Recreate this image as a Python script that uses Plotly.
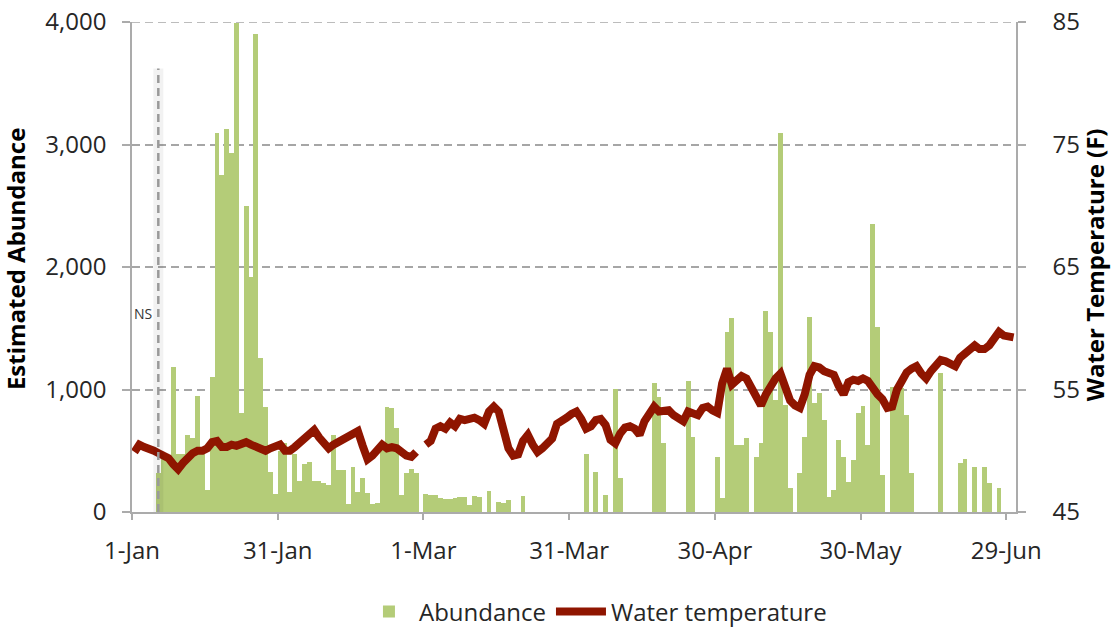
import pandas as pd
import plotly.graph_objects as go

start_date = "2012-01-01"

abundance = [
    0, 0, 0, 0, 0, 320, 430, 430, 1185, 470,
    470, 630, 605, 945, 480, 180, 1100, 3097, 2750, 3125,
    2930, 3995, 810, 2500, 1920, 3900, 1255, 860, 330, 150,
    500, 560, 165, 470, 250, 390, 410, 250, 250, 236,
    222, 628, 340, 340, 65, 370, 166, 277, 158, 65,
    76, 533, 857, 850, 685, 139, 318, 350, 318, 0,
    147, 139, 139, 114, 105, 105, 114, 122, 122, 57,
    131, 122, 0, 174, 0, 84, 76, 98, 0, 0,
    130, 0, 0, 0, 0, 0, 0, 0, 0, 0,
    0, 0, 0, 473, 0, 330, 0, 139, 0, 1004,
    277, 0, 0, 0, 0, 0, 0, 1056, 942, 566,
    0, 0, 0, 0, 1069, 615, 0, 0, 0, 0,
    452, 114, 1472, 1581, 547, 547, 601, 0, 452, 563,
    1643, 1472, 914, 3091, 873, 193, 0, 316, 615, 1594,
    887, 974, 751, 125, 180, 588, 446, 248, 424, 805,
    865, 547, 2350, 1513, 302, 0, 1020, 1020, 1015, 792,
    316, 0, 0, 0, 0, 0, 1132, 0, 0, 0,
    397, 433, 0, 370, 0, 370, 234, 0, 193, 0,
    0, 0,
]

water_temp = [
    49.9, 50.5, 50.3, 50.2, 50.0, 49.8, 49.6, 49.4, 48.9, 48.5,
    49.0, 49.5, 49.8, 50.0, 50.0, 50.2, 50.7, 50.8, 50.3, 50.3,
    50.5, 50.4, 50.5, 50.7, 50.5, 50.3, 50.1, 50.0, 50.2, 50.3,
    50.5, 50.0, 50.0, 50.3, 50.6, 51.0, 51.4, 51.7, 51.1, 50.6,
    50.2, 50.5, 50.7, 51.0, 51.1, 51.3, 51.6, 50.4, 49.3, 49.6,
    50.0, 50.5, 50.2, 50.3, 50.2, 49.8, 49.6, 49.5, 49.9, None,
    50.5, 50.8, 51.8, 52.0, 51.8, 52.3, 52.0, 52.6, 52.5, 52.6,
    52.7, 52.5, 52.2, 53.2, 53.6, 53.2, 51.5, 50.2, 49.6, 49.7,
    50.8, 51.3, 50.5, 49.9, 50.2, 50.6, 51.0, 52.2, 52.4, 52.7,
    53.0, 53.2, 52.6, 51.8, 52.0, 52.5, 52.6, 52.1, 50.9, 50.6,
    51.4, 51.9, 52.0, 51.8, 51.3, 52.4, 53.0, 53.6, 53.2, 53.2,
    53.3, 52.9, 52.7, 52.4, 53.2, 53.0, 52.9, 53.5, 53.6, 53.3,
    53.1, 55.5, 56.7, 55.4, 55.7, 56.1, 55.9, 55.2, 54.4, 53.7,
    54.6, 55.3, 55.9, 56.3, 55.2, 54.1, 53.7, 53.5, 54.6, 56.2,
    56.9, 56.8, 56.5, 56.3, 56.2, 55.3, 54.6, 55.6, 55.8, 55.7,
    55.9, 55.7, 55.0, 54.6, 54.2, 53.5, 53.6, 55.0, 55.7, 56.4,
    56.7, 56.9, 56.3, 55.9, 56.5, 57.0, 57.4, 57.3, 57.1, 56.9,
    57.6, 58.0, 58.2, 58.6, 58.3, 58.3, 58.6, 59.1, 59.7, 59.4,
    59.3, 59.25,
]

left_ticks = [0, 1000, 2000, 3000, 4000]
right_ticks = [45, 55, 65, 75, 85]
left_title = "Estimated Abundance"
right_title = "Water Temperature (F)"

dates = pd.date_range(start_date, periods=len(abundance), freq="D")
DAY_MS = 86400000

FONT = "Open Sans"
TXT = "#262626"
AXC = "#ABABAB"
GRIDC = "#A6A6A6"
TICK_SIZE = 24
TITLE_SIZE = 24

fig = go.Figure()
fig.add_trace(go.Bar(
    x=dates, y=abundance, name="Abundance",
    xperiod=DAY_MS, xperiodalignment="middle",
    marker=dict(color="#B4CC78", line=dict(width=0)),
    width=DAY_MS,
))
fig.add_trace(go.Scatter(
    x=dates, y=water_temp, name="Water temperature", yaxis="y2",
    xperiod=DAY_MS, xperiodalignment="middle",
    mode="lines", line=dict(color="#8F1500", width=8),
    connectgaps=False,
))

# top dashed gridline (at the 4,000 / 85 level)
fig.add_shape(type="line", xref="paper", yref="y", x0=0, x1=1,
              y0=left_ticks[-1], y1=left_ticks[-1],
              line=dict(color=GRIDC, width=1.5, dash="8px,5px"), layer="below")

# NS marker
ns_x = "2012-01-06 10:00"
fig.add_shape(type="line", xref="x", yref="y", x0=ns_x, x1=ns_x, y0=0, y1=3620,
              line=dict(color="rgba(0,0,0,0.05)", width=10), layer="above")
fig.add_shape(type="line", xref="x", yref="y", x0=ns_x, x1=ns_x, y0=0, y1=3620,
              line=dict(color="#9A9A9A", width=2.5, dash="8px,5px"), layer="above")
fig.add_annotation(x="2012-01-03 07:00", y=1624, xref="x", yref="y", text="NS",
                   showarrow=False, font=dict(family=FONT, size=14, color="#333333"))

# axis titles
fig.add_annotation(x=-0.1324, y=0.516, xref="paper", yref="paper",
                   text="<b>" + left_title + "</b>", textangle=-90, showarrow=False,
                   xanchor="center", yanchor="middle",
                   font=dict(family=FONT, size=TITLE_SIZE, color="#000000"))
fig.add_annotation(x=1.0885, y=0.504, xref="paper", yref="paper",
                   text="<b>" + right_title + "</b>", textangle=-90, showarrow=False,
                   xanchor="center", yanchor="middle",
                   font=dict(family=FONT, size=TITLE_SIZE, color="#000000"))

fig.update_layout(
    width=1113, height=628,
    margin=dict(l=132, r=97, t=22, b=116, autoexpand=False),
    paper_bgcolor="white", plot_bgcolor="white",
    bargap=0,
    font=dict(family=FONT, size=TICK_SIZE, color=TXT),
    showlegend=True,
    legend=dict(orientation="h", xref="container", yref="container",
                x=0.535, xanchor="center", y=0.0255, yanchor="middle",
                font=dict(family=FONT, size=24, color=TXT),
                itemwidth=50, traceorder="normal"),
    xaxis=dict(
        type="date", range=["2012-01-01", "2012-07-01"],
        tick0="2012-01-01", dtick=30 * DAY_MS, tickformat="%-d-%b",
        showgrid=False, showline=True, linecolor=AXC, linewidth=1.5,
        ticks="outside", ticklen=6, tickcolor=AXC, tickwidth=1.5,
        ticklabelstandoff=10, automargin=False, ticklabeloverflow="allow",
        tickfont=dict(family=FONT, size=TICK_SIZE, color=TXT),
        zeroline=False,
    ),
    yaxis=dict(
        range=[0, 4000], tickvals=left_ticks, tickformat=",d",
        showgrid=True, gridcolor=GRIDC, gridwidth=1.5, griddash="8px,5px",
        showline=True, linecolor=AXC, linewidth=1.5,
        ticks="outside", ticklen=8, tickcolor=AXC, tickwidth=1.5,
        ticklabelstandoff=11, automargin=False, ticklabeloverflow="allow",
        tickfont=dict(family=FONT, size=TICK_SIZE, color=TXT),
        zeroline=False,
    ),
    yaxis2=dict(
        range=[45, 85], tickvals=right_ticks, overlaying="y", side="right",
        showgrid=False, showline=True, linecolor=AXC, linewidth=1.5,
        ticks="outside", ticklen=8, tickcolor=AXC, tickwidth=1.5,
        ticklabelstandoff=22, automargin=False, ticklabeloverflow="allow",
        tickfont=dict(family=FONT, size=TICK_SIZE, color=TXT),
        zeroline=False,
    ),
)

# remove the browser's default 8px page margin so the figure fills the window
fig.write_html("out.html", config={"displayModeBar": False},
               post_script="document.body.style.margin='0';")
